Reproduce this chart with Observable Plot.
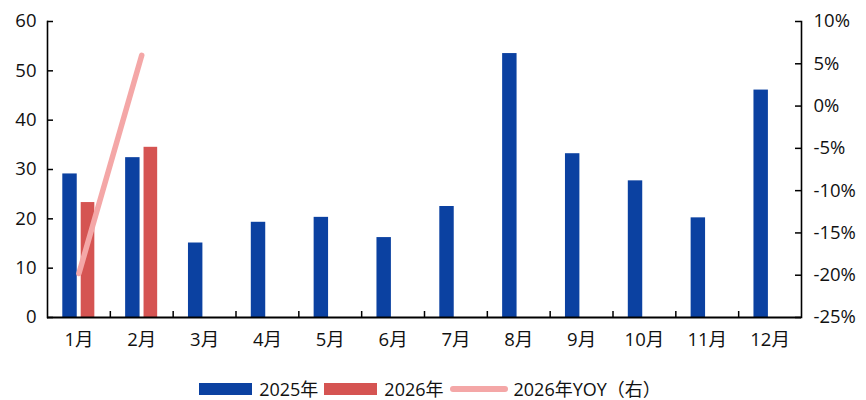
<!DOCTYPE html>
<html><head><meta charset="utf-8">
<script src="https://cdn.jsdelivr.net/npm/d3@7"></script>
<script src="https://cdn.jsdelivr.net/npm/@observablehq/plot@0.6"></script>
<style>
html,body{margin:0;background:#fff;font-family:"Open Sans","Noto Sans CJK SC",sans-serif;overflow:hidden}
#legend{display:flex;justify-content:center;align-items:center;height:22px;line-height:22px;margin-top:18px;font-size:18px;color:#111}
.sw{display:inline-block;width:53px;height:12px;margin-right:7px}
.ln{display:inline-block;width:58px;height:6px;border-radius:3px;background:#f4a7a7;margin-right:6px}
.it{display:flex;align-items:center;margin-right:6px;height:22px}
</style></head>
<body><div id="chart" style="height:360px"></div>
<div id="legend">
<span class="it"><span class="sw" style="background:#0b41a1"></span>2025年</span>
<span class="it"><span class="sw" style="background:#d55452"></span>2026年</span>
<span class="it"><span class="ln"></span>2026年YOY（右）</span>
</div>
<script>
const months = ["1月","2月","3月","4月","5月","6月","7月","8月","9月","10月","11月","12月"];
const v2025 = [29.1,32.4,15.1,19.3,20.3,16.2,22.5,53.5,33.2,27.7,20.2,46.1];
const months2026 = ["1月","2月"];
const v2026 = [23.3,34.5];
const yoy2026 = [-19.8,6.0];
const leftTicks = [0,10,20,30,40,50,60];
const rightTicks = [-25,-20,-15,-10,-5,0,5,10];

const W = 866, H = 360, ml = 47, mr = 65, mt = 21, mb = 43;
const pw = W - ml - mr, ph = H - mt - mb;
const bw = pw / months.length;
const toLeft = v => (v + 25) * 60 / 35;

const d25 = months.map((m,i)=>({m, v:v2025[i]}));
const d26 = months2026.map((m,i)=>({m, v:v2026[i]}));
const dy = months2026.map((m,i)=>({m, v:toLeft(yoy2026[i])}));

const chart = Plot.plot({
  width: W, height: H, marginLeft: ml, marginRight: mr, marginTop: mt, marginBottom: mb,
  style: {fontSize: "18.5px", fontFamily: '"Open Sans","Noto Sans CJK SC",sans-serif', color: "#111", display: "block"},
  x: {type: "band", domain: months, padding: 0, round: false},
  y: {domain: [0, 60]},
  marks: [
    Plot.barY(d25, {x: "m", y: "v", fill: "#0b41a1", insetLeft: 15.3, insetRight: 33.1}),
    Plot.barY(d26, {x: "m", y: "v", fill: "#d55452", insetLeft: 33.7, insetRight: 15.5}),
    Plot.line(dy, {x: "m", y: "v", stroke: "#f4a7a7", strokeWidth: 5.5, strokeLinecap: "round"}),
    Plot.ruleY([0], {stroke: "#000", strokeWidth: 2}),
    Plot.frame({anchor: "left", stroke: "#000", strokeWidth: 1.6}),
    Plot.frame({anchor: "right", stroke: "#000", strokeWidth: 1.6}),
    Plot.tickY(leftTicks, {y: d=>d, stroke: "#000", strokeWidth: 1.5, insetRight: pw - 6}),
    Plot.tickY(rightTicks.map(toLeft), {y: d=>d, stroke: "#000", strokeWidth: 1.5, insetLeft: pw - 6}),
    Plot.tickX(months.slice(1), {x: d=>d, dx: -bw/2, stroke: "#000", strokeWidth: 1.5, insetTop: ph - 6}),
    Plot.axisY({ticks: leftTicks, tickSize: 0, tickPadding: 11, label: null}),
    Plot.axisY({anchor: "right", ticks: rightTicks.map(toLeft), tickSize: 0, tickPadding: 12, label: null,
      tickFormat: d => Math.round(d * 35 / 60 - 25) + "%"}),
    Plot.axisX({tickSize: 0, tickPadding: 15, label: null})
  ]
});
document.getElementById("chart").append(chart);
</script>
</body></html>
